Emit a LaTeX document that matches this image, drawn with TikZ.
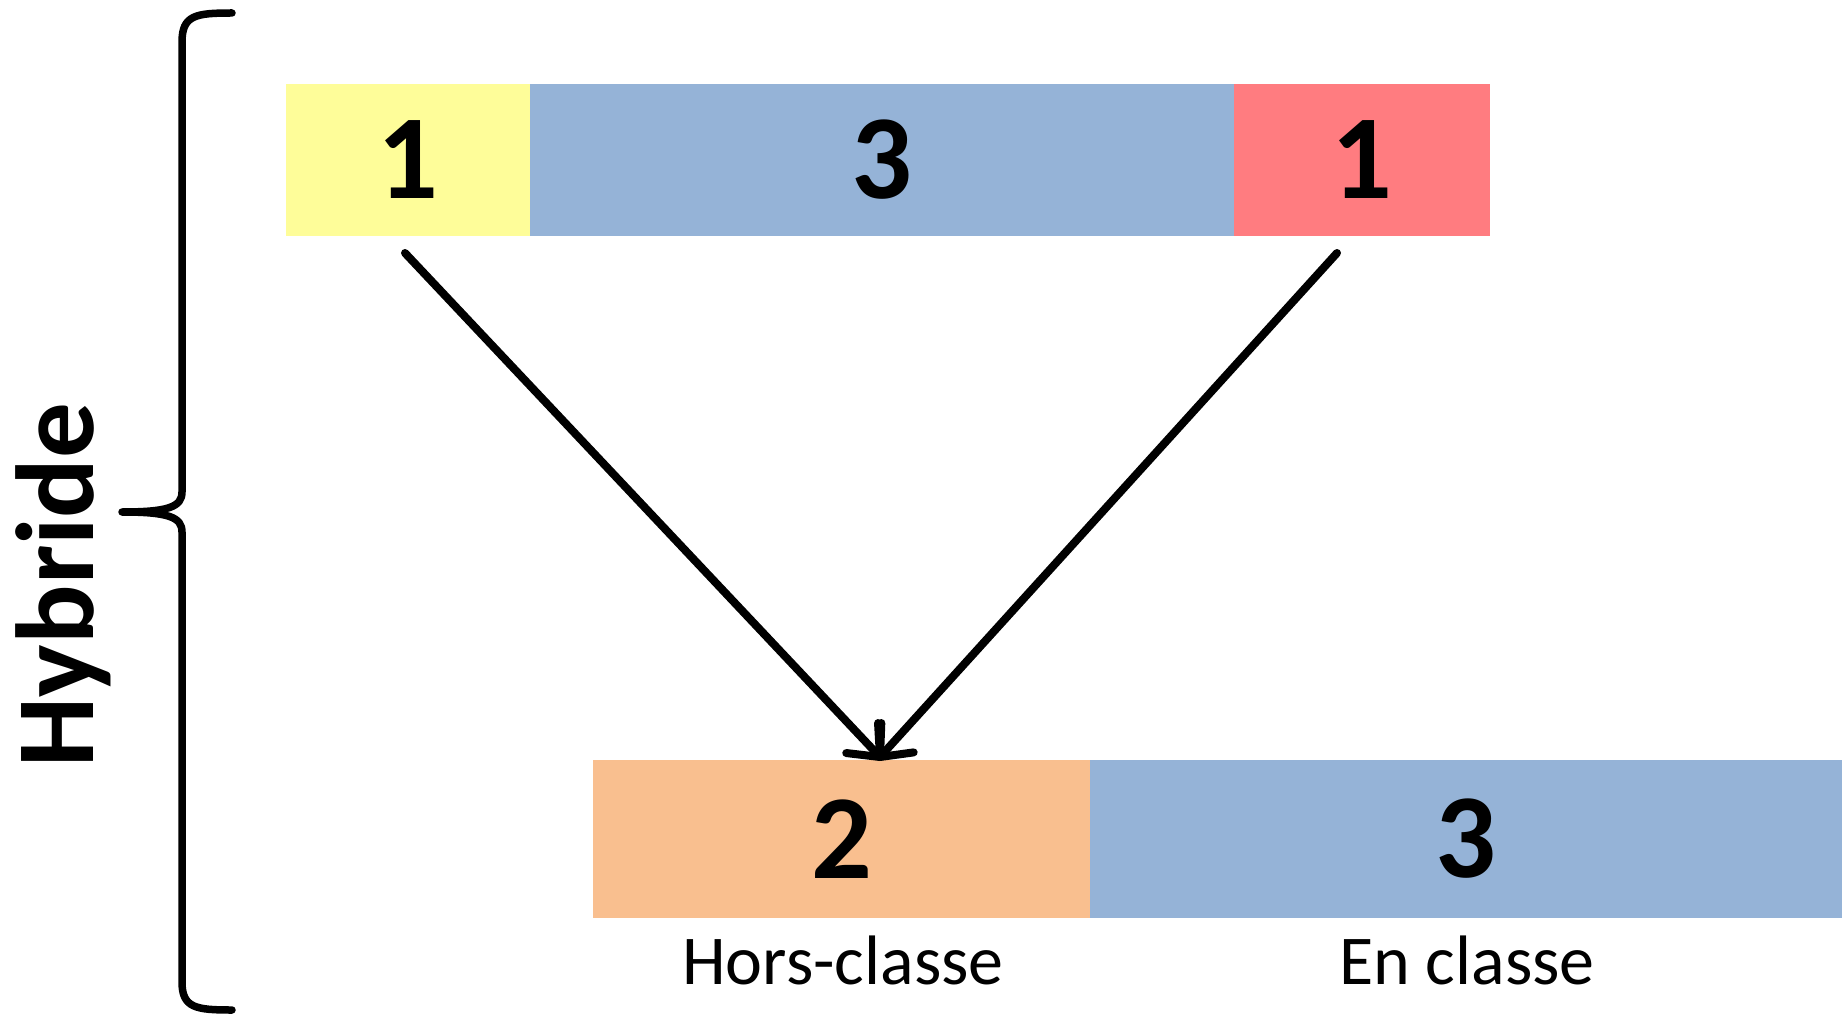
\documentclass[tikz,border=0pt]{standalone}
\usepackage{fontspec}
\setmainfont{Carlito}
\usetikzlibrary{calc}
\definecolor{cyellow}{HTML}{FEFD99}
\definecolor{cblue}{HTML}{95B3D7}
\definecolor{cred}{HTML}{FF7C80}
\definecolor{corange}{HTML}{F9BF8F}
\tikzset{
  cell/.style={draw=none, inner sep=0pt, outer sep=0pt, anchor=north west,
    minimum height=#1, font=\fontsize{120}{120}\selectfont\bfseries},
  cellw/.style={minimum width=#1},
  lbl/.style={anchor=base, inner sep=0pt, font=\fontsize{70}{70}\selectfont},
  flow/.style={line width=8pt, line cap=round, line join=round},
  bracket/.style={line width=7.5pt, line cap=round, line join=round}
}
\begin{document}
\begin{tikzpicture}[x=1pt, y=-1pt]
  \useasboundingbox (0,0) rectangle (1848,1016);

  % upper row of cells
  \node[cell=152pt, cellw=244pt, fill=cyellow] (y1) at (286,84) {1};
  \node[cell=152pt, cellw=704pt, fill=cblue]   (b3) at (530,84) {3};
  \node[cell=152pt, cellw=256pt, fill=cred]    (r1) at (1234,84) {1};

  % lower row of cells
  \node[cell=158pt, cellw=497pt, fill=corange] (o2) at (593,760) {2};
  \node[cell=158pt, cellw=752pt, fill=cblue]   (b4) at (1090,760) {3};

  % captions under the lower row
  \node[lbl] (hc) at (843,984) {Hors-classe};
  \node[lbl] (ec) at (1467,984) {En classe};

  % arrows into the lower row, with open barbed heads
  \coordinate (s1) at (405,253);
  \coordinate (s2) at (1337,253);
  \coordinate (t) at (880,757);
  \draw[flow] (s1) -- (t);
  \draw[flow] (s2) -- (t);
  \draw[flow] ($(t)!34pt!40:(s1)$) -- (t) -- ($(t)!34pt!-40:(s1)$);
  \draw[flow] ($(t)!34pt!40:(s2)$) -- (t) -- ($(t)!34pt!-40:(s2)$);

  % curly bracket and its label
  \coordinate (btop) at (232,13);
  \coordinate (bbot) at (232,1010);
  \coordinate (btip) at (122,512);
  \draw[bracket] (btop) .. controls (196,13) and (182,15) .. (182,42)
    -- (182,492) .. controls (182,507) and (168,512) .. (btip)
    .. controls (168,512) and (182,517) .. (182,532)
    -- (182,982) .. controls (182,1008) and (196,1010) .. (bbot);
  \node[rotate=90, anchor=base, inner sep=0pt,
        font=\fontsize{111}{111}\selectfont\bfseries] (hy) at (93,585) {Hybride};
\end{tikzpicture}
\end{document}
